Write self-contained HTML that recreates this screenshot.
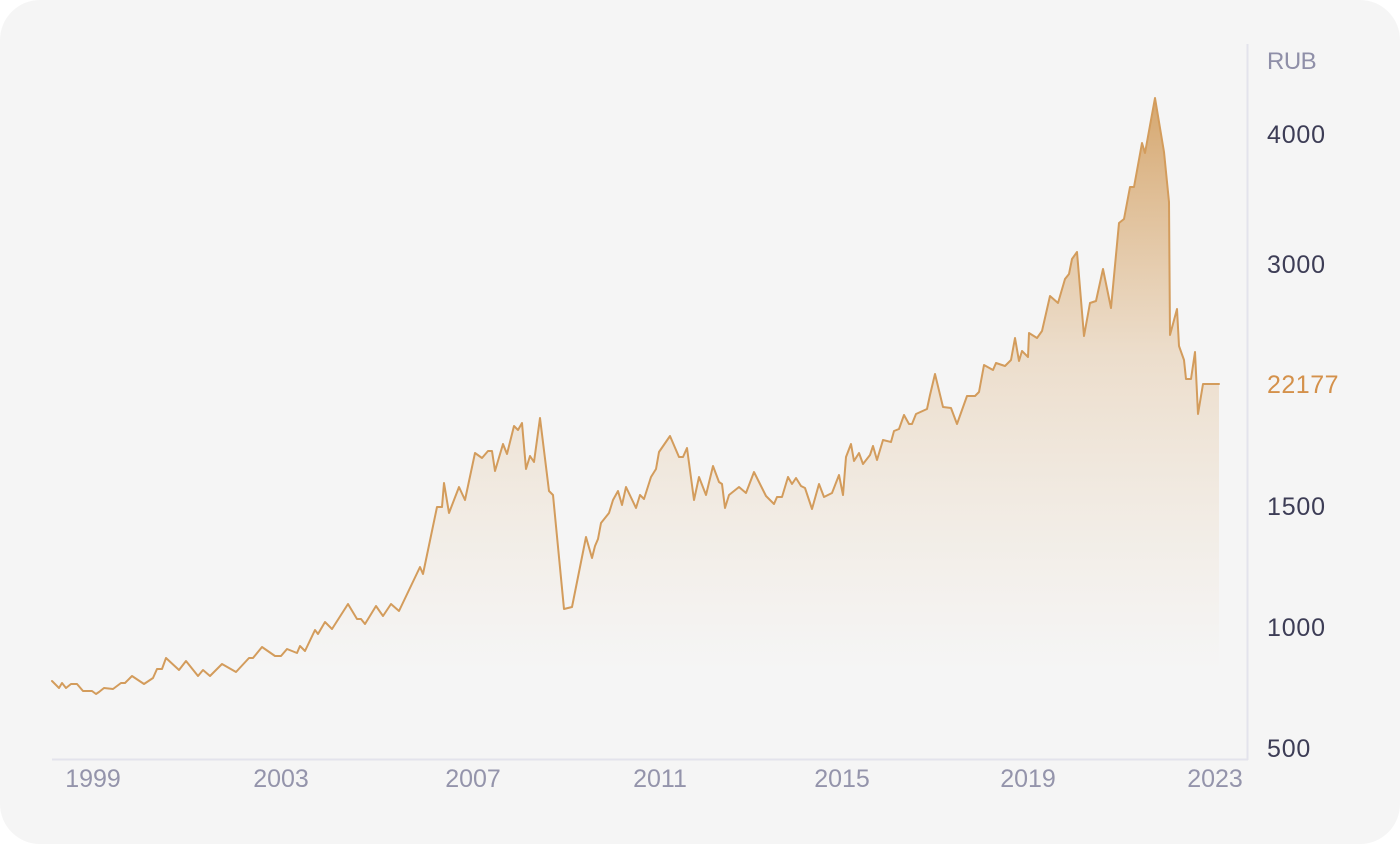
<!DOCTYPE html>
<html><head><meta charset="utf-8"><style>
html,body{margin:0;padding:0;background:#ffffff;}
svg{display:block;}
text{font-family:"Liberation Sans",sans-serif;}
</style></head><body>
<svg width="1400" height="844" viewBox="0 0 1400 844" xmlns="http://www.w3.org/2000/svg">
<defs>
<linearGradient id="g" gradientUnits="userSpaceOnUse" x1="0" y1="98" x2="0" y2="670">
<stop offset="0" stop-color="#d4a368" stop-opacity="0.95"/>
<stop offset="0.45" stop-color="#dcb27f" stop-opacity="0.35"/>
<stop offset="1" stop-color="#e6c9a4" stop-opacity="0"/>
</linearGradient>
</defs>
<rect x="0" y="0" width="1400" height="844" rx="40" ry="40" fill="#f5f5f5"/>
<line x1="1247.5" y1="44" x2="1247.5" y2="760" stroke="#e3e3ec" stroke-width="2"/>
<line x1="52" y1="759.5" x2="1248" y2="759.5" stroke="#e3e3ec" stroke-width="2"/>
<polygon fill="url(#g)" points="52,681 59,688 62,683 66,688 71,684 77,684 83,691 92,691 96,694 99,692 104,688 113,689 121,683 125,683 132,676 144,684 153,678 157,669 162,669 166,658 179,670 186,661 198,676 203,670 210,676 222,664 236,672 249,658 253,658 262,647 275,656 281,656 287,649 297,653 300,646 305,651 315,630 318,634 325,622 332,629 348,604 357,619 361,619 365,624 376,606 383,616 391,604 399,611 420,567 423,574 437,507 442,507 444,483 449,513 459,487 465,500 475,453 482,458 488,451 492,451 495,471 503,444 507,454 514,426 518,430 522,423 526,469 530,456 534,462 540,418 549,491 553,495 564,609 572,607 586,537 592,558 595,546 598,539 601,523 609,513 613,500 618,491 622,505 626,487 636,508 640,495 644,499 651,477 656,469 659,452 670,436 679,457 683,457 687,448 694,500 699,477 706,495 713,466 719,482 722,484 725,508 729,495 739,487 746,493 754,472 766,496 774,504 777,497 782,497 788,477 792,484 796,478 801,486 805,488 812,509 819,484 824,497 832,493 839,475 843,495 846,457 851,444 854,461 859,453 863,464 870,455 873,446 877,460 883,440 891,442 894,431 899,429 904,415 909,424 912,424 916,414 927,409 930,395 935,374 943,407 951,408 957,424 967,396 975,396 979,392 984,365 993,370 996,363 1005,366 1011,360 1015,338 1019,361 1022,351 1028,357 1029,333 1037,338 1042,331 1050,296 1058,303 1065,279 1069,274 1072,259 1077,252 1084,336 1090,303 1096,301 1103,269 1111,308 1119,223 1124,219 1130,187 1134,187 1142,143 1145,153 1155,98 1164,152 1169,202 1170,335 1177,309 1179,346 1184,360 1186,379 1191,379 1195,352 1198,414 1203,384 1219,384 1219,758 52,758"/>
<polyline fill="none" stroke="#d39c5c" stroke-width="2" stroke-linejoin="round" stroke-linecap="round" points="52,681 59,688 62,683 66,688 71,684 77,684 83,691 92,691 96,694 99,692 104,688 113,689 121,683 125,683 132,676 144,684 153,678 157,669 162,669 166,658 179,670 186,661 198,676 203,670 210,676 222,664 236,672 249,658 253,658 262,647 275,656 281,656 287,649 297,653 300,646 305,651 315,630 318,634 325,622 332,629 348,604 357,619 361,619 365,624 376,606 383,616 391,604 399,611 420,567 423,574 437,507 442,507 444,483 449,513 459,487 465,500 475,453 482,458 488,451 492,451 495,471 503,444 507,454 514,426 518,430 522,423 526,469 530,456 534,462 540,418 549,491 553,495 564,609 572,607 586,537 592,558 595,546 598,539 601,523 609,513 613,500 618,491 622,505 626,487 636,508 640,495 644,499 651,477 656,469 659,452 670,436 679,457 683,457 687,448 694,500 699,477 706,495 713,466 719,482 722,484 725,508 729,495 739,487 746,493 754,472 766,496 774,504 777,497 782,497 788,477 792,484 796,478 801,486 805,488 812,509 819,484 824,497 832,493 839,475 843,495 846,457 851,444 854,461 859,453 863,464 870,455 873,446 877,460 883,440 891,442 894,431 899,429 904,415 909,424 912,424 916,414 927,409 930,395 935,374 943,407 951,408 957,424 967,396 975,396 979,392 984,365 993,370 996,363 1005,366 1011,360 1015,338 1019,361 1022,351 1028,357 1029,333 1037,338 1042,331 1050,296 1058,303 1065,279 1069,274 1072,259 1077,252 1084,336 1090,303 1096,301 1103,269 1111,308 1119,223 1124,219 1130,187 1134,187 1142,143 1145,153 1155,98 1164,152 1169,202 1170,335 1177,309 1179,346 1184,360 1186,379 1191,379 1195,352 1198,414 1203,384 1219,384"/>
<g font-size="25">
<text x="1267" y="69" fill="#8f8fa8" font-size="24" letter-spacing="-0.5">RUB</text>
<text x="1267" y="143" fill="#3d3d56" letter-spacing="0.8">4000</text>
<text x="1267" y="273" fill="#3d3d56" letter-spacing="0.8">3000</text>
<text x="1267" y="393" fill="#d4914b" letter-spacing="0.5">22177</text>
<text x="1267" y="515" fill="#3d3d56" letter-spacing="0.8">1500</text>
<text x="1267" y="636" fill="#3d3d56" letter-spacing="0.8">1000</text>
<text x="1267" y="757" fill="#3d3d56" letter-spacing="0.8">500</text>
</g>
<g font-size="25" fill="#9494ab" text-anchor="middle">
<text x="93" y="787">1999</text>
<text x="281" y="787">2003</text>
<text x="473" y="787">2007</text>
<text x="660" y="787">2011</text>
<text x="842" y="787">2015</text>
<text x="1028" y="787">2019</text>
<text x="1215" y="787">2023</text>
</g>
</svg>
</body></html>
